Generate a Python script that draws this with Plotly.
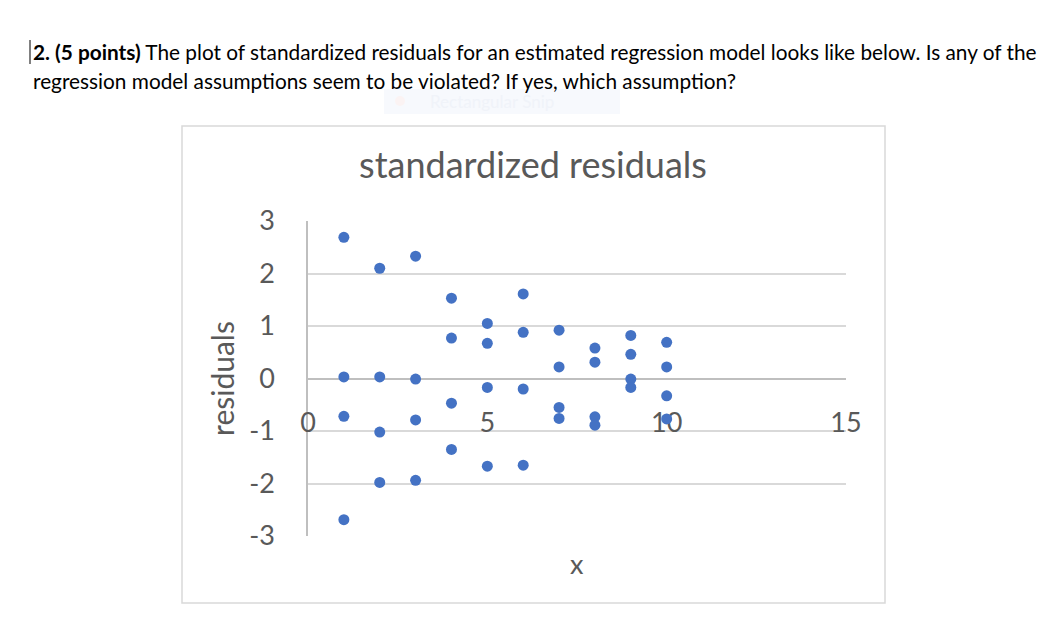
import plotly.graph_objects as go

# ---- data ----
x_vals = [1, 1, 1, 1,
          2, 2, 2, 2,
          3, 3, 3, 3,
          4, 4, 4, 4,
          5, 5, 5, 5,
          6, 6, 6, 6,
          7, 7, 7, 7,
          8, 8, 8, 8,
          9, 9, 9, 9,
          10, 10, 10, 10]
residuals = [2.69, 0.03, -0.72, -2.69,
             2.10, 0.03, -1.02, -1.98,
             2.33, -0.01, -0.79, -1.94,
             1.53, 0.77, -0.47, -1.35,
             1.05, 0.67, -0.17, -1.67,
             1.61, 0.88, -0.20, -1.65,
             0.92, 0.22, -0.55, -0.76,
             0.58, 0.31, -0.73, -0.89,
             0.82, 0.46, -0.01, -0.17,
             0.69, 0.22, -0.33, -0.77]
x_ticks = [0, 5, 10, 15]
x_tick_labels = ["0", "5", "10", "15"]
y_ticks = [-3, -2, -1, 0, 1, 2, 3]
y_tick_labels = ["-3", "-2", "-1", "0", "1", "2", "3"]

chart_title = "standardized residuals"
x_title = "x"
y_title = "residuals"
question_line1 = "<b>2. (5 points)</b> The plot of standardized residuals for an estimated regression model looks like below. Is any of the"
question_line2 = "regression model assumptions seem to be violated? If yes, which assumption?"

FONT = "Lato"
GREY = "#595959"

OFF = 8  # page body margin
W, H = 1060 - OFF, 630 - OFF
# plot area in screen pixels (reference)
SL, SR, ST, SB = 308, 846, 221, 536
L, R, T, B = SL - OFF, SR - OFF, ST - OFF, SB - OFF


def px(xs):
    return (xs - SL) / (SR - SL)


def py(ys):
    return (SB - ys) / (SB - ST)


fig = go.Figure()
fig.add_trace(go.Scatter(
    x=x_vals, y=residuals, mode="markers",
    marker=dict(color="#4472C4", size=11, line=dict(width=0)),
    showlegend=False, hoverinfo="x+y",
))

fig.update_layout(
    width=W, height=H,
    margin=dict(l=L, r=W - R, t=T, b=H - B, autoexpand=False),
    paper_bgcolor="white", plot_bgcolor="white",
    font=dict(family=FONT, color=GREY),
    title=dict(text=chart_title, x=(533 - OFF) / W, xanchor="center",
               y=1 - (165 - OFF) / H, yanchor="middle",
               font=dict(family=FONT, size=36, color=GREY)),
    xaxis=dict(range=[0, 15], tickvals=x_ticks, ticktext=x_tick_labels,
               showgrid=False, zeroline=False, layer="below traces",
               anchor="free", position=0.5, showline=True, linecolor="#bfbfbf",
               linewidth=1.5, ticks="", ticklabelstandoff=20,
               tickfont=dict(family=FONT, size=27, color=GREY), fixedrange=True),
    yaxis=dict(range=[-3, 3], tickvals=y_ticks, ticktext=y_tick_labels,
               showgrid=True, gridcolor="#d9d9d9", layer="below traces",
               gridwidth=1.5, zeroline=False, showline=True, linecolor="#bfbfbf",
               linewidth=1.5, ticks="", ticklabelstandoff=26,
               tickfont=dict(family=FONT, size=27, color=GREY),
               title=dict(text=y_title, standoff=6,
                          font=dict(family=FONT, size=30, color=GREY)),
               fixedrange=True),
)

annotations = [
    dict(text=x_title, x=0.5, y=py(563), xref="paper", yref="paper",
         showarrow=False, xanchor="center", yanchor="middle",
         font=dict(family=FONT, size=27, color=GREY)),
    dict(text=question_line1, x=px(31), y=py(52), xref="paper", yref="paper",
         showarrow=False, xanchor="left", yanchor="middle",
         font=dict(family=FONT, size=20.8, color="#000000")),
    dict(text=question_line2, x=px(31), y=py(80), xref="paper", yref="paper",
         showarrow=False, xanchor="left", yanchor="middle",
         font=dict(family=FONT, size=20.8, color="#000000")),
    dict(text="Rectangular Snip", x=px(428), y=py(101), xref="paper", yref="paper",
         showarrow=False, xanchor="left", yanchor="middle",
         font=dict(family=FONT, size=17, color="#f0f3f9")),
]
fig.update_layout(annotations=annotations)

shapes = [
    # chart border
    dict(type="rect", xref="paper", yref="paper",
         x0=px(182), x1=px(885), y0=py(603), y1=py(126),
         line=dict(color="#d9d9d9", width=1.5), fillcolor="rgba(0,0,0,0)", layer="below"),
    # faint snip tooltip
    dict(type="rect", xref="paper", yref="paper",
         x0=px(384), x1=px(620), y0=py(114), y1=py(89),
         line=dict(width=0), fillcolor="#f7f9fd", layer="below"),
    dict(type="circle", xref="paper", yref="paper",
         x0=px(395), x1=px(405), y0=py(106), y1=py(96),
         line=dict(width=0), fillcolor="#fbf3f3", layer="below"),
    # text cursor
    dict(type="line", xref="paper", yref="paper",
         x0=px(30), x1=px(30), y0=py(64), y1=py(40),
         line=dict(color="#000000", width=1)),
]
fig.update_layout(shapes=shapes)

fig.write_html("out.html", config={"displayModeBar": False})
